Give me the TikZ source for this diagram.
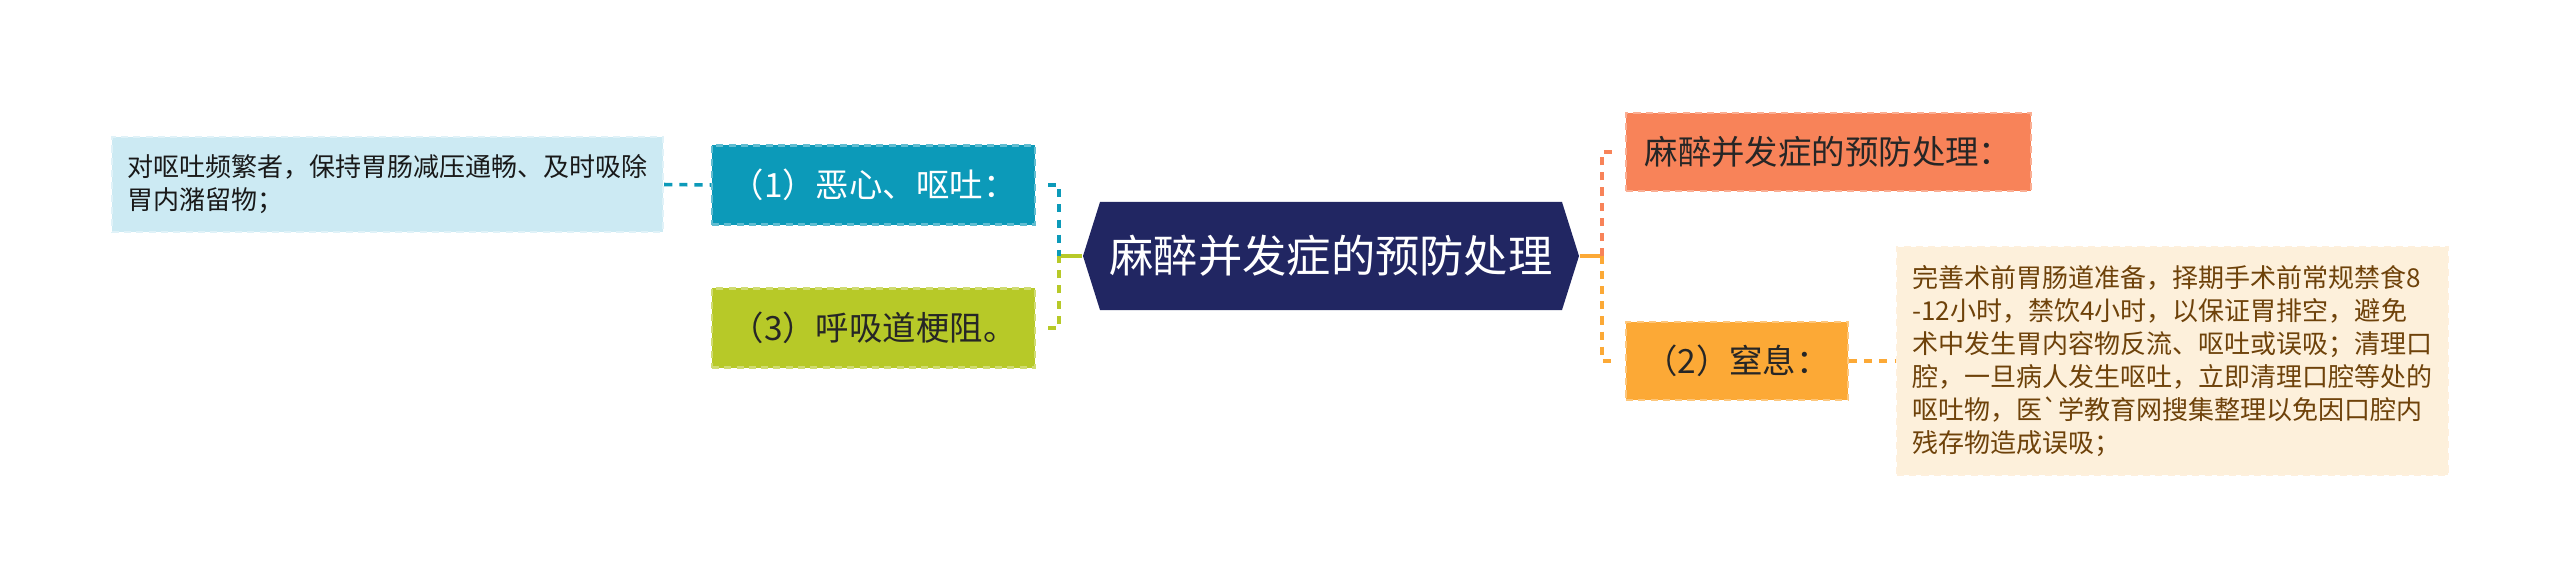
\documentclass[tikz,border=0pt]{standalone}
\usepackage{fontspec}
\newfontfamily\cjkfont{Noto Sans CJK SC}
\usetikzlibrary{positioning}
\definecolor{rootblue}{RGB}{33,38,98}
\definecolor{tealbox}{RGB}{12,154,185}
\definecolor{limebox}{RGB}{183,201,40}
\definecolor{coralbox}{RGB}{248,131,89}
\definecolor{amberbox}{RGB}{252,169,54}
\definecolor{iceblue}{RGB}{204,234,243}
\definecolor{cream}{RGB}{253,240,219}
\definecolor{browntext}{RGB}{110,66,10}
\tikzset{
  topic/.style={inner sep=0pt, minimum height=0.79cm, line width=0.6pt,
    dash pattern=on 2pt off 1.5pt, font=\cjkfont\fontsize{9.5}{11}\selectfont},
  detail/.style={inner sep=0pt, align=left, line width=0.6pt,
    dash pattern=on 2pt off 1.5pt, font=\cjkfont\fontsize{7.4}{9.4}\selectfont},
  link/.style={line width=1pt, dash pattern=on 2.3pt off 2pt},
}
\begin{document}
\begin{tikzpicture}[x=0.01cm,y=-0.01cm]
\useasboundingbox (0,0) rectangle (2560,588);

% root
\fill [rootblue] (1083,256) -- (1100,202) -- (1562,202) -- (1579,256) -- (1562,310) -- (1100,310) -- cycle;
\node (root) [inner sep=0pt, minimum width=4.96cm, minimum height=1.08cm, text=white,
  font=\cjkfont\fontsize{12.6}{14}\selectfont] at (1331,256) {麻醉并发症的预防处理};

% left side
\node (nausea) [topic, minimum width=3.23cm, fill=tealbox, draw=tealbox!65!white, text=white] at (873.5,185) {（1）恶心、呕吐：};
\node (airway) [topic, minimum width=3.23cm, fill=limebox, draw=limebox!65!white, text=black!85] at (873.5,328) {（3）呼吸道梗阻。};
\node (nauseatip) [detail, minimum width=5.51cm, minimum height=0.95cm, fill=iceblue, draw=iceblue!60!white, text=black!90]
  at (387.5,184.5) {对呕吐频繁者，保持胃肠减压通畅、及时吸除\\胃内潴留物；};

% right side
\node (prevent) [topic, minimum width=4.05cm, minimum height=0.78cm, fill=coralbox, draw=coralbox!65!white, text=black!85] at (1828.5,152) {麻醉并发症的预防处理：};
\node (choke) [topic, minimum width=2.22cm, minimum height=0.78cm, fill=amberbox, draw=amberbox!65!white, text=black!85] at (1737,361) {（2）窒息：};
\node (choketip) [detail, minimum width=5.51cm, minimum height=2.28cm, fill=cream, draw=cream!70!amberbox!40!white, text=browntext]
  at (2172.5,361) {完善术前胃肠道准备，择期手术前常规禁食8\\-12小时，禁饮4小时，以保证胃排空，避免\\术中发生胃内容物反流、呕吐或误吸；清理口\\腔，一旦病人发生呕吐，立即清理口腔等处的\\呕吐物，医`学教育网搜集整理以免因口腔内\\残存物造成误吸；};

\coordinate (lj) at (1059,256);
\coordinate (rj) at (1602,256);

\draw [line width=1pt, limebox] (root.west) -- (lj);
\draw [link, tealbox, shorten <=0.12cm] (nausea.east) -| (lj);
\draw [link, limebox, shorten <=0.12cm] (airway.east) -| (lj);
\draw [link, tealbox] (nauseatip.east) -- (nausea.west);

\draw [line width=1pt, amberbox] (root.east) -- (rj);
\draw [link, coralbox, shorten >=0.08cm] (rj) |- (prevent.west);
\draw [link, amberbox, shorten >=0.08cm] (rj) |- (choke.west);
\draw [link, amberbox] (choke.east) -- (choketip.west);
\end{tikzpicture}
\end{document}
